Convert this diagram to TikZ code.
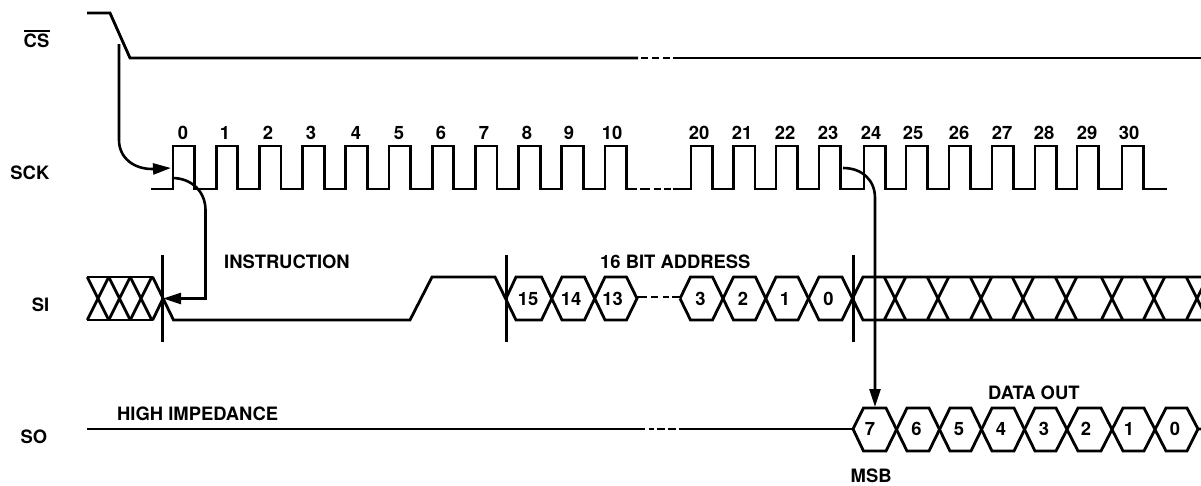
\documentclass[tikz,border=0pt]{standalone}
\usepackage{fontspec}
\setmainfont{TeX Gyre Heros}
\usetikzlibrary{arrows.meta}
\tikzset{
  wave/.style={line width=2.8pt,line join=miter,line cap=butt},
  conn/.style={line width=2.6pt,-{Triangle[length=18pt,width=11pt]}},
  mark line/.style={line width=3pt},
  lab/.style={font=\bfseries\fontsize{18.4}{18.4}\selectfont,inner sep=0pt,text=black},
}
\begin{document}
\begin{tikzpicture}[x=1pt,y=-1pt]
\useasboundingbox (0,0) rectangle (1201,485);
% CS
\draw[wave] (87,13) -- (110,13) -- (130,58) -- (638,58);
\foreach \a/\b in {641/648,652/659,663/670,673/1201} \draw[wave] (\a,58) -- (\b,58);
% SCK
\draw[wave] (151,189) foreach \r in {173,216.2,259.4,302.6,345.8,389,432.2,475.4,518.6,561.8,605}
  { -- (\r,189) -- (\r,146) -- (\r+21.5,146) -- (\r+21.5,189) } -- (637,189);
\foreach \a/\b in {640/650,654/661,664/671} \draw[wave] (\a,189) -- (\b,189);
\draw[wave] (673,189) foreach \r in {691,733.5,776,819,864,906,949,992,1035,1077,1122}
  { -- (\r,189) -- (\r,146) -- (\r+21.5,146) -- (\r+21.5,189) } -- (1167,189);
% clock numbers
\foreach \x/\t in {183/0,225/1,268/2,311/3,356/4,399/5,441/6,484/7,527/8,569/9,612/10,
  699/20,742/21,785/22,828/23,871/24,913/25,959/26,1002/27,1044/28,1087/29,1129/30}
  \node[lab] (n\t) at (\x,133) {\t};
% SI: undefined bits before the instruction
\draw[wave] (87,277) -- (152.7,277) (87,320) -- (152.7,320);
\foreach \c in {98,119.5,141} \draw[wave] (\c-10.7,277) -- (\c+10.7,320) (\c-10.7,320) -- (\c+10.7,277);
% SI: instruction
\draw[wave] (152.7,277) -- (173.5,320) -- (410,320) -- (432,277) -- (495,277) -- (516,320) -- (541.5,320) -- (562,277) -- (584.5,277) -- (605,320) -- (626.5,320) -- (637,298.5) -- (626.5,277) -- (605,277) -- (584.5,320) -- (562,320) -- (541.5,277) -- (516,277) -- (506,298.5);
\draw[wave] (152.7,320) -- (163,298.5);
\foreach \a/\b in {637/647,651/658,663/669,672/680} \draw[wave] (\a,297) -- (\b,297);
\draw[wave] (680,298.5) -- (690.5,277) -- (712.5,277) -- (733.5,320) -- (755.5,320) -- (776,277) -- (798,277) -- (819,320) -- (842,320) -- (863,277) -- (1201,277);
\draw[wave] (680,298.5) -- (690.5,320) -- (712.5,320) -- (733.5,277) -- (755.5,277) -- (776,320) -- (798,320) -- (819,277) -- (842,277) -- (863,320) -- (1201,320);
\foreach \c in {895,938,981,1023,1066,1112,1154,1197}
  \draw[wave] (\c-10.7,277) -- (\c+10.7,320) (\c-10.7,320) -- (\c+10.7,277);
% SI markers
\foreach \x in {162,506,853} \draw[mark line] (\x,255) -- (\x,342);
\foreach \x/\t in {528/15,571/14,612.5/13,700.5/3,743/2,785/1,828.5/0}
  \node[lab] (si\t) at (\x,299) {\t};
% SO
\draw[wave] (87,429) -- (645,429);
\foreach \a/\b in {649/654,657/665,668/676} \draw[wave] (\a,429) -- (\b,429);
\draw[wave] (679,429) -- (853,429);
\draw[wave] (853,429) -- (863.5,408) -- (886,408) -- (907,451) -- (929,451) -- (950,408) -- (971,408) -- (992,451) -- (1014,451) -- (1035,408) -- (1056,408) -- (1078,451) -- (1101,451) -- (1123,408) -- (1144,408) -- (1166,451) -- (1187,451) -- (1198,429) -- (1201,429);
\draw[wave] (853,429) -- (863.5,451) -- (886,451) -- (907,408) -- (929,408) -- (950,451) -- (971,451) -- (992,408) -- (1014,408) -- (1035,451) -- (1056,451) -- (1078,408) -- (1101,408) -- (1123,451) -- (1144,451) -- (1166,408) -- (1187,408) -- (1198,429);
\foreach \x/\t in {870/7,916.5/6,959/5,1001/4,1044/3,1086/2,1129/1,1175/0}
  \node[lab] (so\t) at (\x,429) {\t};
% Timing connectors
\draw[conn] (119,44) -- (119,140) .. controls (119,158) and (134,169) .. (152,169) -- (171,168);
\draw[conn] (172,178) .. controls (192,178) and (205.5,192) .. (205.5,210) -- (205.5,298.5) -- (163,298.5);
\draw[conn] (843,168) .. controls (862,168) and (875,180) .. (875,198) -- (875,407);
% Labels
\node[lab,anchor=east] (lcs) at (49.5,41) {CS};
\draw[line width=1.4pt] (lcs.west |- 0,31) -- (lcs.east |- 0,31);
\node[lab,anchor=east] (lsck) at (49.5,173) {SCK};
\node[lab,anchor=east] (lsi) at (49.5,305) {SI};
\node[lab,anchor=east] (lso) at (47.5,437) {SO};
\node[lab,anchor=west] (linst) at (224,262) {INSTRUCTION};
\node[lab,anchor=west] (laddr) at (600,262) {16 BIT ADDRESS};
\node[lab,anchor=west] (ldata) at (988,393) {DATA OUT};
\node[lab,anchor=west] (lhi) at (117,414) {HIGH IMPEDANCE};
\node[lab,anchor=west] (lmsb) at (850.5,475.5) {MSB};
\end{tikzpicture}
\end{document}
